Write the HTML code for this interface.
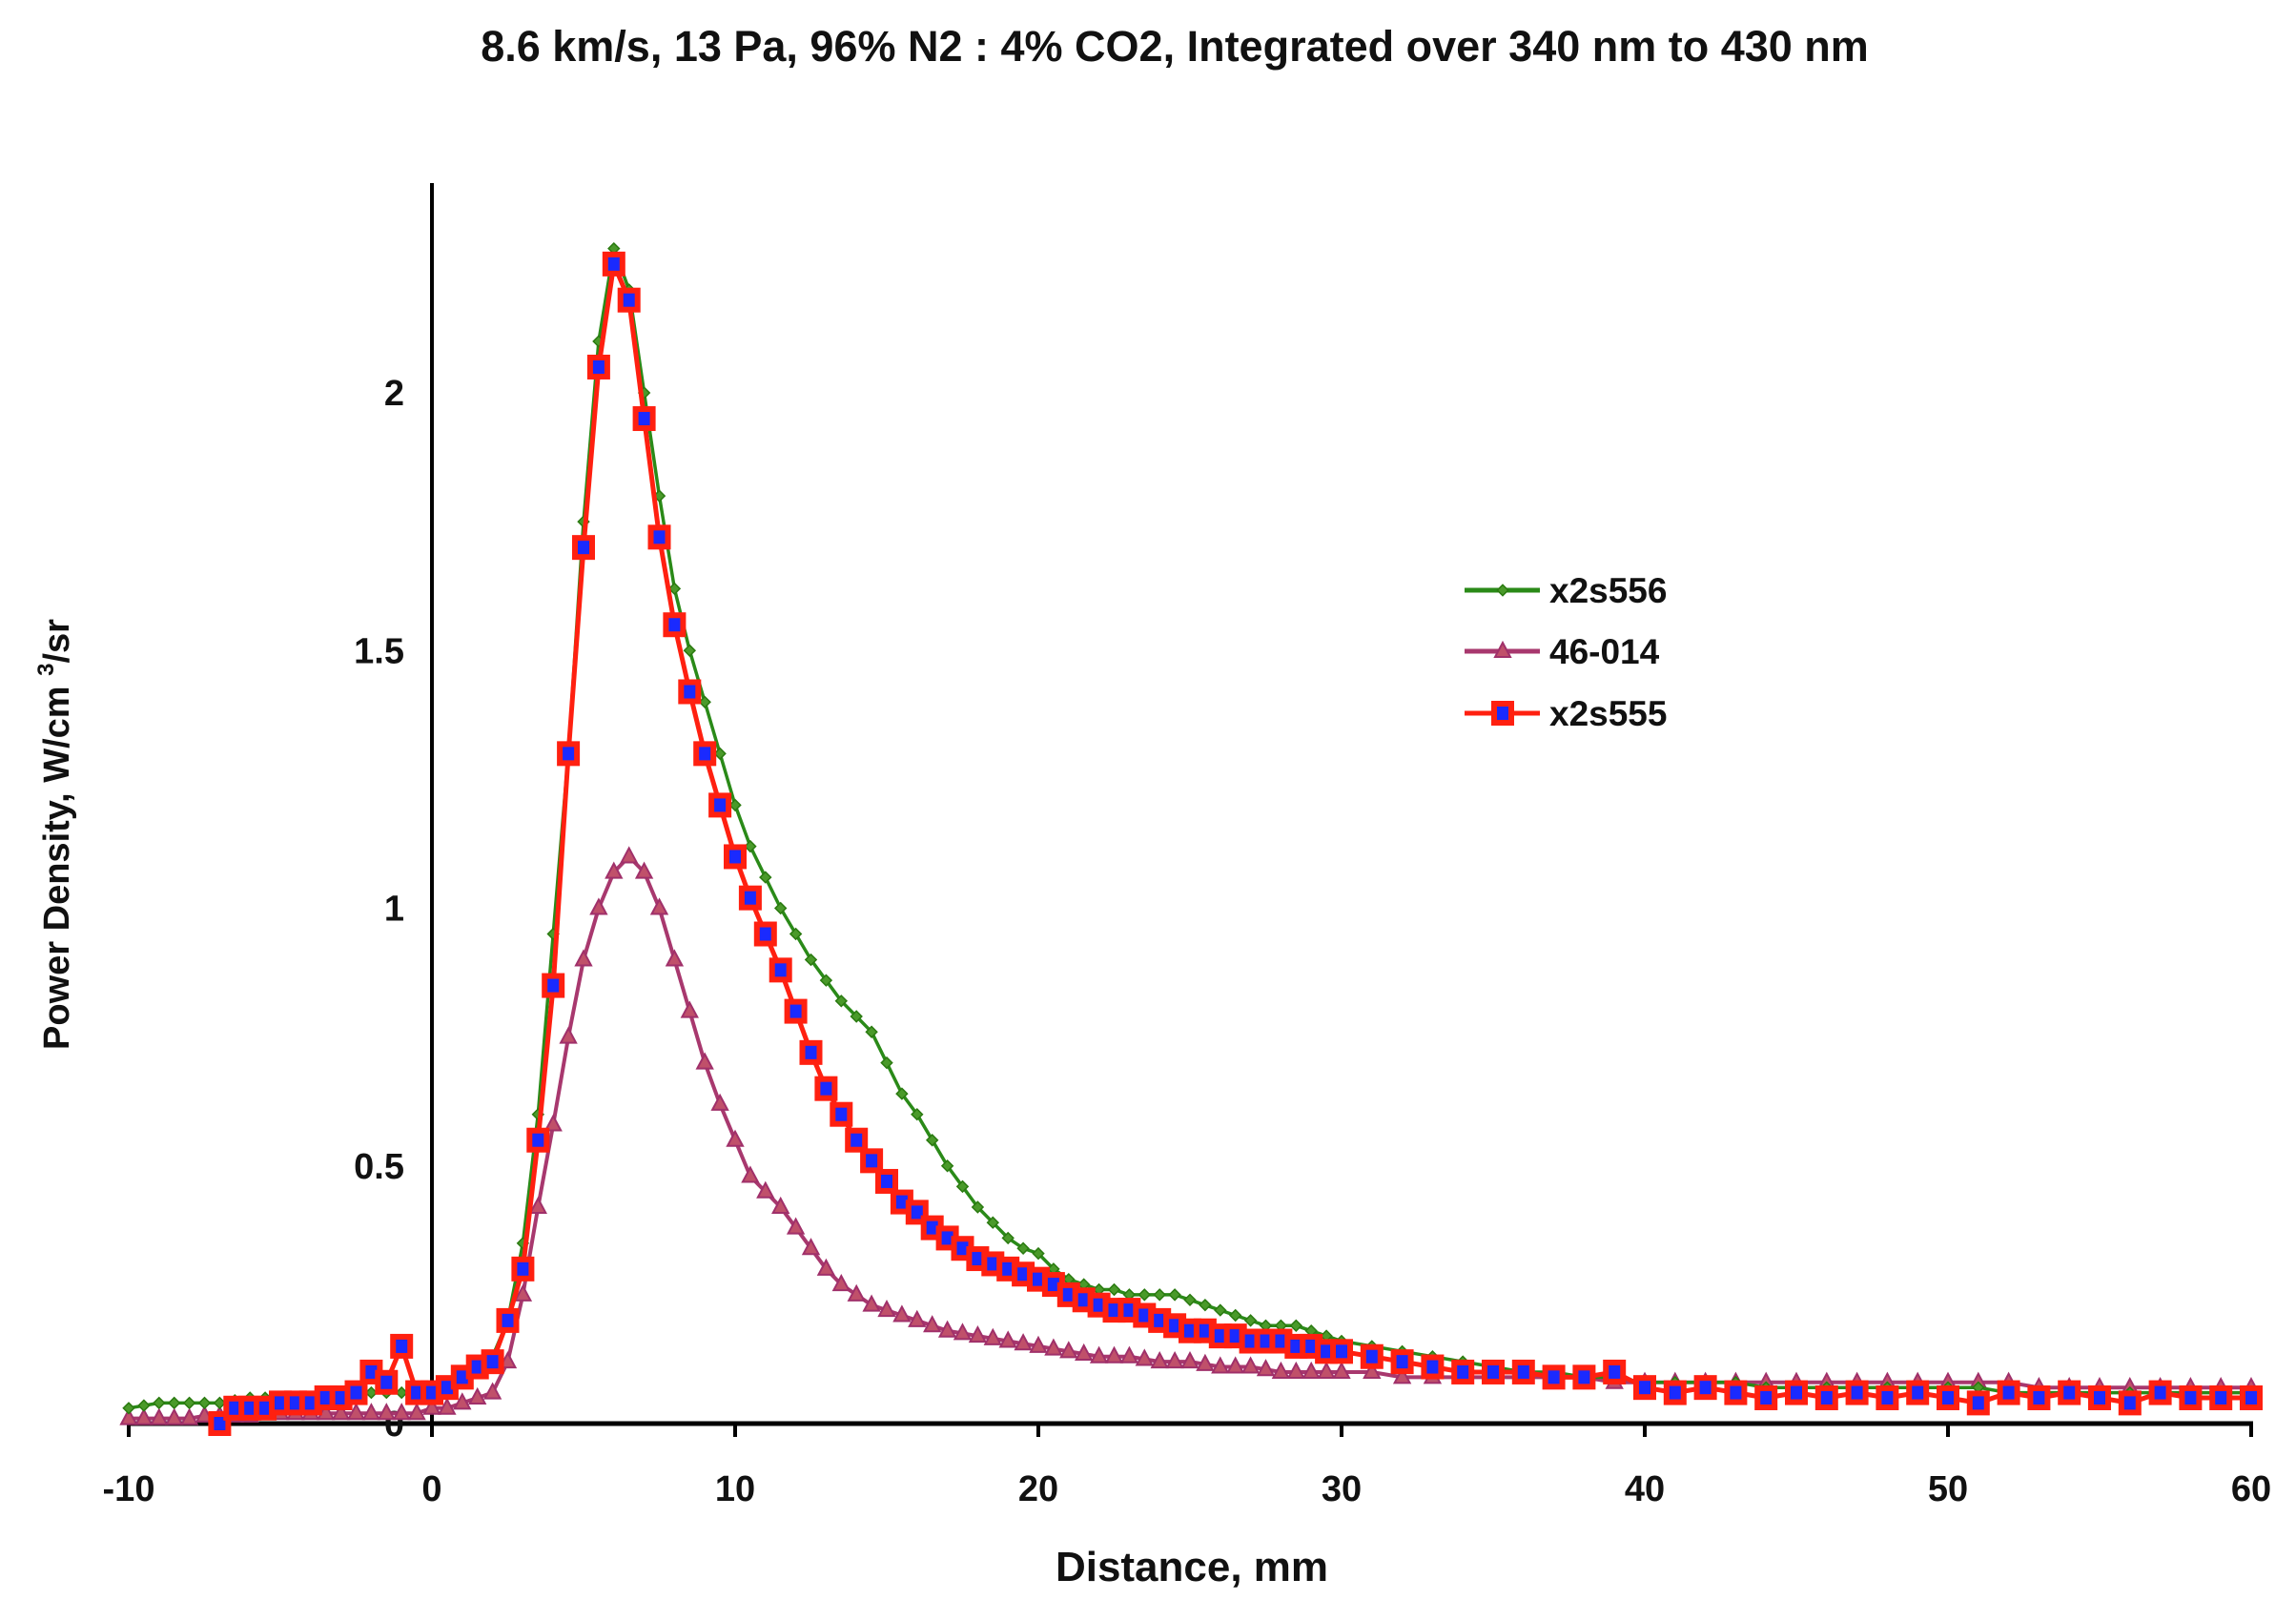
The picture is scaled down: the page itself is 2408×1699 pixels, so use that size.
<!DOCTYPE html>
<html><head><meta charset="utf-8"><style>
html,body{margin:0;padding:0;background:#fff;}
svg text{font-family:"Liberation Sans",sans-serif;font-weight:bold;fill:#111;}
</style></head><body>
<svg id="chart" width="2408" height="1694" viewBox="0 0 2408 1694" xmlns="http://www.w3.org/2000/svg">
<text x="1232" y="64" font-size="45" text-anchor="middle">8.6 km/s, 13 Pa, 96% N2 : 4% CO2, Integrated over 340 nm to 430 nm</text>
<g id="plot"></g>
<text x="1250" y="1658" font-size="44" text-anchor="middle">Distance, mm</text>
<text transform="translate(72 875) rotate(-90)" font-size="38" text-anchor="middle">Power Density, W/cm <tspan dy="-16" font-size="24">3</tspan><tspan dy="16">/sr</tspan></text>
<g id="legend"></g>
</svg>
<script>
const xVals=[-10,-9.5,-9,-8.5,-8,-7.5,-7,-6.5,-6,-5.5,-5,-4.5,-4,-3.5,-3,-2.5,-2,-1.5,-1,-0.5,
0,0.5,1,1.5,2,2.5,3,3.5,4,4.5,5,5.5,6,6.5,7,7.5,8,8.5,9,9.5,10,10.5,11,11.5,12,12.5,13,13.5,14,14.5,15,15.5,16,16.5,17,17.5,18,18.5,19,19.5,20,20.5,21,21.5,22,22.5,23,23.5,24,24.5,25,25.5,26,26.5,27,27.5,28,28.5,29,29.5,30,
31,32,33,34,35,36,37,38,39,40,41,42,43,44,45,46,47,48,49,50,51,52,53,54,55,56,57,58,59,60];
const greenVals=[0.03,0.035,0.04,0.04,0.04,0.04,0.04,0.045,0.05,0.05,0.05,0.05,0.05,0.05,0.055,0.055,0.06,0.06,0.06,0.06,
0.06,0.07,0.08,0.10,0.13,0.20,0.35,0.60,0.95,1.30,1.75,2.10,2.28,2.20,2.00,1.80,1.62,1.50,1.40,1.30,1.20,1.12,1.06,1.00,0.95,0.90,0.86,0.82,0.79,0.76,0.70,0.64,0.60,0.55,0.50,0.46,0.42,0.39,0.36,0.34,0.33,0.30,0.28,0.27,0.26,0.26,0.25,0.25,0.25,0.25,0.24,0.23,0.22,0.21,0.20,0.19,0.19,0.19,0.18,0.17,0.16,
0.15,0.14,0.13,0.12,0.11,0.10,0.10,0.09,0.09,0.08,0.08,0.08,0.08,0.07,0.07,0.07,0.07,0.07,0.07,0.07,0.07,0.06,0.06,0.06,0.06,0.06,0.06,0.06,0.06,0.06];
const redVals=[null,null,null,null,null,null,0.00,0.03,0.03,0.03,0.04,0.04,0.04,0.05,0.05,0.06,0.10,0.08,0.15,0.06,
0.06,0.07,0.09,0.11,0.12,0.20,0.30,0.55,0.85,1.30,1.70,2.05,2.25,2.18,1.95,1.72,1.55,1.42,1.30,1.20,1.10,1.02,0.95,0.88,0.80,0.72,0.65,0.60,0.55,0.51,0.47,0.43,0.41,0.38,0.36,0.34,0.32,0.31,0.30,0.29,0.28,0.27,0.25,0.24,0.23,0.22,0.22,0.21,0.20,0.19,0.18,0.18,0.17,0.17,0.16,0.16,0.16,0.15,0.15,0.14,0.14,
0.13,0.12,0.11,0.10,0.10,0.10,0.09,0.09,0.10,0.07,0.06,0.07,0.06,0.05,0.06,0.05,0.06,0.05,0.06,0.05,0.04,0.06,0.05,0.06,0.05,0.04,0.06,0.05,0.05,0.05];
const purpleVals=[0.01,0.01,0.01,0.01,0.01,0.015,0.015,0.015,0.015,0.02,0.02,0.02,0.02,0.02,0.02,0.02,0.02,0.02,0.02,0.02,
0.03,0.03,0.04,0.05,0.06,0.12,0.25,0.42,0.58,0.75,0.90,1.00,1.07,1.10,1.07,1.00,0.90,0.80,0.70,0.62,0.55,0.48,0.45,0.42,0.38,0.34,0.30,0.27,0.25,0.23,0.22,0.21,0.20,0.19,0.18,0.175,0.17,0.165,0.16,0.155,0.15,0.145,0.14,0.135,0.13,0.13,0.13,0.125,0.12,0.12,0.12,0.115,0.11,0.11,0.11,0.105,0.10,0.10,0.10,0.10,0.10,
0.10,0.09,0.09,0.09,0.09,0.09,0.09,0.09,0.08,0.08,0.08,0.08,0.08,0.08,0.08,0.08,0.08,0.08,0.08,0.08,0.08,0.08,0.07,0.07,0.07,0.07,0.07,0.07,0.07,0.07];
const xTicks=[-10,0,10,20,30,40,50,60];
const yTicks=[0,0.5,1,1.5,2];
const yTickLabels=["0","0.5","1","1.5","2"];
const seriesNames=["x2s556","46-014","x2s555"];

const NS="http://www.w3.org/2000/svg";
const X0=135,X1=2361,XMIN=-10,XMAX=60;
const Y0=1493,YPER=540.5;
function sx(v){return X0+(v-XMIN)*(X1-X0)/(XMAX-XMIN);}
function sy(v){return Y0-v*YPER;}
function mk(tag,attrs,parent){const e=document.createElementNS(NS,tag);for(const k in attrs)e.setAttribute(k,attrs[k]);parent.appendChild(e);return e;}
const plot=document.getElementById('plot');

const yAxis=mk('line',{x1:sx(0),y1:192,x2:sx(0),y2:Y0+2,stroke:'#000','stroke-width':4},plot);


const xAxis=mk('line',{x1:X0,y1:Y0,x2:X1+2,y2:Y0,stroke:'#000','stroke-width':5},plot);


xTicks.forEach(function(t){
  const tk=mk('line',{x1:sx(t),y1:Y0,x2:sx(t),y2:Y0+14,stroke:'#000','stroke-width':4},plot);
  
  
  const lb=mk('text',{x:sx(t),y:1574,'font-size':38,'text-anchor':'middle'},plot);
  lb.textContent=String(t);
  
  
});
yTicks.forEach(function(t,i){
  const lb=mk('text',{x:424,y:sy(t)+13,'font-size':38,'text-anchor':'end'},plot);
  lb.textContent=yTickLabels[i];
  
  
});

function drawSeries(vals,color,width,name,marker){
  const g=mk('g',{},plot);
  
  
  let d='';let started=false;
  vals.forEach(function(v,i){if(v===null){started=false;return;}d+=(started?'L':'M')+sx(xVals[i]).toFixed(1)+' '+sy(v).toFixed(1)+' ';started=true;});
  const p=mk('path',{d:d,fill:'none',stroke:color,'stroke-width':width,'stroke-linejoin':'round'},g);
  
  
  vals.forEach(function(v,i){if(v===null)return;const m=marker(g,sx(xVals[i]),sy(v));
    
    });
}
function greenMarker(g,x,y){return mk('rect',{x:x-4,y:y-4,width:8,height:8,fill:'#4a9a2a',stroke:'#2a7a10','stroke-width':1.5,transform:'rotate(45 '+x+' '+y+')'},g);}
function purpleMarker(g,x,y){return mk('path',{d:'M'+x+' '+(y-9)+' L'+(x+8)+' '+(y+6)+' L'+(x-8)+' '+(y+6)+'Z',fill:'#c0506a',stroke:'#a0306a','stroke-width':2},g);}
function redMarker(g,x,y){return mk('rect',{x:x-9,y:y-10,width:18,height:20,fill:'#1a2aff',stroke:'#ff2010','stroke-width':6},g);}

drawSeries(purpleVals,'#a8386e',4,'series-46-014',purpleMarker);
drawSeries(greenVals,'#2a8a18',3.5,'series-x2s556',greenMarker);
drawSeries(redVals,'#ff2010',5,'series-x2s555',redMarker);

const leg=document.getElementById('legend');
const legY=[619,683,748];
const legColors=['#2a8a18','#a8386e','#ff2010'];
const legMarkers=[greenMarker,purpleMarker,redMarker];
seriesNames.forEach(function(n,i){
  const e=mk('g',{},leg);
  
  
  mk('line',{x1:1536,y1:legY[i],x2:1615,y2:legY[i],stroke:legColors[i],'stroke-width':5},e);
  legMarkers[i](e,1576,legY[i]);
  const t=mk('text',{x:1625,y:legY[i]+13,'font-size':37},e);
  t.textContent=n;
});
</script>
</body></html>
